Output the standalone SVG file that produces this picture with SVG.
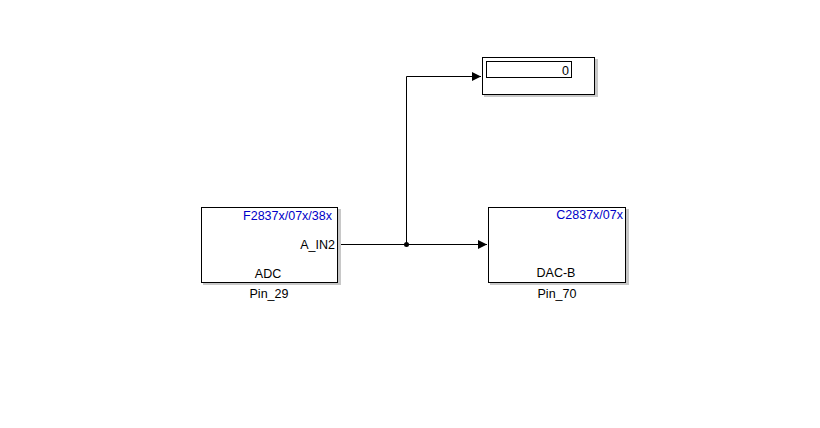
<svg xmlns="http://www.w3.org/2000/svg" width="820" height="428" viewBox="0 0 820 428">
<defs>
<style>
.blk{fill:#fff;stroke:#000;stroke-width:1}
.sh{fill:#c8c8c8}
.t{font-family:"Liberation Sans",Arial,sans-serif;font-size:12.5px;fill:#000}
.b{fill:#0000c8}
.ln{stroke:#000;stroke-width:1;fill:none}
</style>
<marker id="ah" markerWidth="10" markerHeight="10" refX="9" refY="5" orient="auto" markerUnits="userSpaceOnUse">
<path d="M0,0.5 L9,5 L0,9.5 Z" fill="#000"/>
</marker>
</defs>
<rect width="820" height="428" fill="#fff"/>
<g id="connectors">
<path class="ln" d="M338.5,244.5 H487" marker-end="url(#ah)"/>
<path class="ln" d="M406.5,244.5 V76.5 H481" marker-end="url(#ah)"/>
<circle cx="406.5" cy="244.5" r="2.5" fill="#000"/>
</g>
<g id="adc">
<rect class="sh" x="203" y="209" width="138" height="76"/>
<rect class="blk" x="201.5" y="207.5" width="136" height="75"/>
<text class="t b" x="332" y="220" text-anchor="end">F2837x/07x/38x</text>
<text class="t" x="335" y="249" text-anchor="end">A_IN2</text>
<text class="t" x="268" y="278" text-anchor="middle">ADC</text>
<text class="t" x="269" y="298" text-anchor="middle">Pin_29</text>
</g>
<g id="dac">
<rect class="sh" x="490" y="209" width="139" height="76"/>
<rect class="blk" x="488.5" y="207.5" width="137" height="75"/>
<text class="t b" x="623" y="219" text-anchor="end">C2837x/07x</text>
<text class="t" x="556" y="277" text-anchor="middle">DAC-B</text>
<text class="t" x="557" y="298" text-anchor="middle">Pin_70</text>
</g>
<g id="display">
<rect class="sh" x="484" y="59" width="114" height="38"/>
<rect class="blk" x="482.5" y="57.5" width="112" height="37"/>
<rect class="blk" x="486.5" y="61.5" width="85" height="16"/>
<text class="t" x="569" y="75" text-anchor="end">0</text>
</g>
</svg>
